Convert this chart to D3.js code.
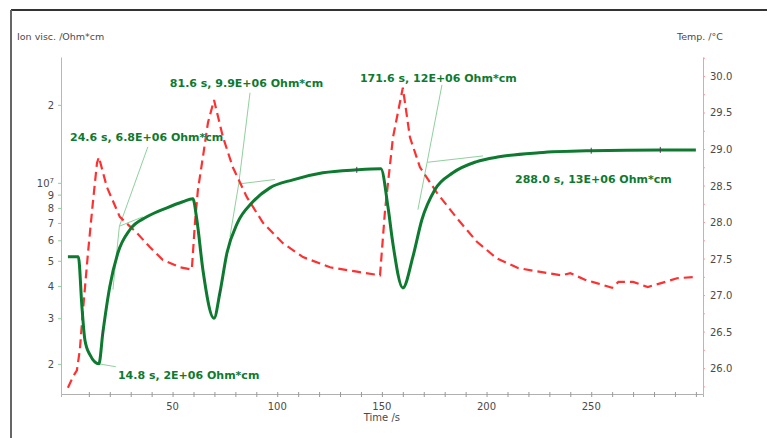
<!DOCTYPE html>
<html>
<head>
<meta charset="utf-8">
<script src="https://cdn.jsdelivr.net/npm/d3@7"></script>
<style>
  body { margin: 0; background: #fff; }
  text { font-family: "DejaVu Sans", sans-serif; }
</style>
</head>
<body>
<script>
// ion viscosity (Ohm*cm) over time (s)
const viscTime = [0, 5, 6.7, 8.1, 10.5, 14.8, 16.7, 20, 23.9, 29.6, 37.7, 47.3, 54.9, 59.7,
  61.6, 64.5, 69.8, 72.6, 76, 81, 87.9, 96.5, 107.5, 121.8, 138, 149.5,
  152.9, 155.2, 160, 164.8, 169.1, 175.3, 183.9, 195, 206, 225, 250, 283, 300];
const viscValue = [5.18e6, 5.18e6, 3.32e6, 2.48e6, 2.17e6, 2.0e6, 2.64e6, 3.97e6, 5.37e6, 6.59e6, 7.39e6, 8.01e6, 8.45e6, 8.68e6,
  7.2e6, 4.61e6, 3.0e6, 3.76e6, 5.37e6, 7.01e6, 8.37e6, 9.56e6, 1.027e7, 1.093e7, 1.122e7, 1.132e7,
  8.08e6, 5.87e6, 3.93e6, 5.18e6, 7.2e6, 9.4e6, 1.093e7, 1.205e7, 1.26e7, 1.306e7, 1.33e7, 1.34e7, 1.34e7];

// small point markers drawn on the viscosity curve
const markerTimes = [16.7, 72.6, 138, 250, 283];

// temperature (°C) over time (s)
const tempTime = [0, 2.4, 4.3, 5.7, 7.2, 9.6, 11.9, 13.9, 14.8, 18.6, 24.8, 33, 39, 45.4, 53.5, 59.2,
  60.7, 62.1, 64.5, 66.9, 69.8, 74.1, 78.8, 85.5, 93.2, 102.7, 112.3, 125.2, 138.1, 149.1,
  151.5, 155.3, 160, 163.4, 168.2, 176.3, 185.9, 195.4, 205, 215, 225, 236, 240, 247, 253,
  260, 263, 270, 277, 283, 291, 300];
const tempValue = [25.73, 25.88, 25.97, 26.25, 26.79, 27.58, 28.26, 28.81, 28.89, 28.48, 28.07, 27.85, 27.66, 27.48, 27.38, 27.35,
  27.99, 28.44, 28.89, 29.36, 29.67, 29.16, 28.75, 28.34, 27.99, 27.71, 27.52, 27.38, 27.32, 27.27,
  28.16, 29.16, 29.84, 29.16, 28.75, 28.40, 28.05, 27.73, 27.50, 27.37, 27.32, 27.27, 27.30, 27.21, 27.16,
  27.10, 27.18, 27.18, 27.11, 27.16, 27.23, 27.25];

const xTicks = [50, 100, 150, 200, 250];
const xMinorTicks = d3.range(10, 301, 10);
const leftTicks = [2e6, 3e6, 4e6, 5e6, 6e6, 7e6, 8e6, 9e6, 1e7, 2e7];
const rightTicks = [26.0, 26.5, 27.0, 27.5, 28.0, 28.5, 29.0, 29.5, 30.0];

// annotations: point (t, v), label anchor (lt, lv), tangent construction lines
const annotations = [
  { t: 24.6, v: 6.8e6, text: "24.6 s, 6.8E+06 Ohm*cm", lt: 1.0, lv: 1.505e7,
    lines: [[38.2, 1.377e7], [21.5, 3.87e6], [35.8, 7.39e6]] },
  { t: 81.6, v: 9.9e6, text: "81.6 s, 9.9E+06 Ohm*cm", lt: 48.7, lv: 2.433e7,
    lines: [[87, 2.227e7], [77.4, 6.19e6], [98.9, 1.03e7]] },
  { t: 171.6, v: 1.2e7, text: "171.6 s, 12E+06 Ohm*cm", lt: 139.5, lv: 2.545e7,
    lines: [[178.7, 2.39e7], [167.2, 7.87e6], [198.3, 1.27e7]] },
  { t: 14.8, v: 2.0e6, text: "14.8 s, 2E+06 Ohm*cm", lt: 23.9, lv: 1.81e6,
    lines: [[22.9, 1.95e6]] },
  { t: 288, v: 1.34e7, text: "288.0 s, 13E+06 Ohm*cm", lt: 213.6, lv: 1.036e7,
    lines: [] }
];

const width = 771, height = 438;
const svg = d3.select('body').append('svg')
  .attr('width', width)
  .attr('height', height)

// outer frame (top and left edges visible)
svg.append('line').attr('x1', 11).attr('x2', 767).attr('y1', 10).attr('y2', 10)
  .attr('stroke', '#333').attr('stroke-width', 2)
svg.append('line').attr('x1', 11).attr('x2', 11).attr('y1', 10).attr('y2', 438)
  .attr('stroke', '#666').attr('stroke-width', 2)

const x = d3.scaleLinear().domain([-3.3, 303.4]).range([61, 703])
const yL = d3.scaleLog().domain([1.53e6, 3.06e7]).range([394, 57])
const yR = d3.scaleLinear().domain([25.645, 30.26]).range([394, 57])

const gridGreen = '#8fd19e', axisRed = '#ff9a9a', tickText = '#4a4a4a'

// x axis
const gx = svg.append('g').attr('transform', `translate(0, 394)`)
gx.call(d3.axisBottom(x).tickValues(xMinorTicks).tickSize(3).tickFormat(''))
gx.select('.domain').attr('stroke', '#b0b0b0')
gx.selectAll('.tick line').attr('stroke', '#999').attr('y1', -2)
gx.selectAll('.tick text').remove()
svg.selectAll('.xlbl').data(xTicks).join('text')
  .attr('x', d => x(d)).attr('y', 410)
  .attr('text-anchor', 'middle').attr('font-size', 10).attr('fill', tickText)
  .text(d => d)
svg.append('text').attr('x', x(150)).attr('y', 421)
  .attr('text-anchor', 'middle').attr('font-size', 10).attr('fill', tickText)
  .text('Time /s')

// left axis (log)
const gl = svg.append('g').attr('transform', `translate(61, 0)`)
gl.call(d3.axisLeft(yL).tickValues(leftTicks).tickSize(3).tickSizeOuter(0).tickFormat(''))
gl.select('.domain').attr('stroke', gridGreen)
gl.selectAll('.tick line').attr('stroke', gridGreen)
const leftLabels = svg.selectAll('.llbl').data(leftTicks).join('text')
  .attr('x', 54).attr('y', d => yL(d) + 4)
  .attr('text-anchor', 'end').attr('font-size', 10).attr('fill', tickText)
leftLabels.each(function(d) {
  const t = d3.select(this)
  if (d === 1e7) {
    t.append('tspan').text('10')
    t.append('tspan').attr('dy', -4).attr('font-size', 7).text('7')
  } else {
    t.text(d >= 1e7 ? d / 1e7 : d / 1e6)
  }
})
svg.append('text').attr('x', 17).attr('y', 40)
  .attr('font-size', 9.5).attr('fill', tickText)
  .text('Ion visc. /Ohm*cm')

// right axis (temperature)
const gr = svg.append('g').attr('transform', `translate(703, 0)`)
gr.call(d3.axisRight(yR).tickValues(d3.range(25.75, 30.26, 0.25)).tickSize(2).tickSizeOuter(0).tickFormat(''))
gr.select('.domain').attr('stroke', axisRed)
gr.selectAll('.tick line').attr('stroke', axisRed)
svg.selectAll('.rlbl').data(rightTicks).join('text')
  .attr('x', 710).attr('y', d => yR(d) + 4)
  .attr('font-size', 10).attr('fill', tickText)
  .text(d => d.toFixed(1))
svg.append('text').attr('x', 677).attr('y', 40)
  .attr('font-size', 9.5).attr('fill', tickText)
  .text('Temp. /°C')

// annotation construction lines
const annG = svg.append('g')
annotations.forEach(a => {
  a.lines.forEach(p => {
    annG.append('line')
      .attr('x1', x(a.t)).attr('y1', yL(a.v))
      .attr('x2', x(p[0])).attr('y2', yL(p[1]))
      .attr('stroke', gridGreen).attr('stroke-width', 1)
  })
})

// temperature line (dashed red)
const tempData = tempTime.map((t, i) => [t, tempValue[i]])
svg.append('path')
  .attr('d', d3.line().x(d => x(d[0])).y(d => yR(d[1]))(tempData))
  .attr('fill', 'none').attr('stroke', '#ff3030').attr('stroke-width', 2.2)
  .attr('stroke-dasharray', '9,5')

// ion viscosity line (solid green)
const viscData = viscTime.map((t, i) => [t, viscValue[i]])
svg.append('path')
  .attr('d', d3.line().curve(d3.curveMonotoneX).x(d => x(d[0])).y(d => yL(d[1]))(viscData))
  .attr('fill', 'none').attr('stroke', '#0d7a2f').attr('stroke-width', 3)

// point markers on the green curve
svg.selectAll('.mk').data(markerTimes).join('line')
  .attr('x1', d => x(d)).attr('x2', d => x(d))
  .attr('y1', d => yL(viscValue[viscTime.indexOf(d)]) - 3)
  .attr('y2', d => yL(viscValue[viscTime.indexOf(d)]) + 3)
  .attr('stroke', '#445').attr('stroke-width', 1)

// annotation labels
svg.selectAll('.ann').data(annotations).join('text')
  .attr('x', d => x(d.lt)).attr('y', d => yL(d.lv) + 4)
  .attr('font-size', 11).attr('font-weight', 'bold').attr('fill', '#0d7a2f')
  .text(d => d.text)
</script>
</body>
</html>
